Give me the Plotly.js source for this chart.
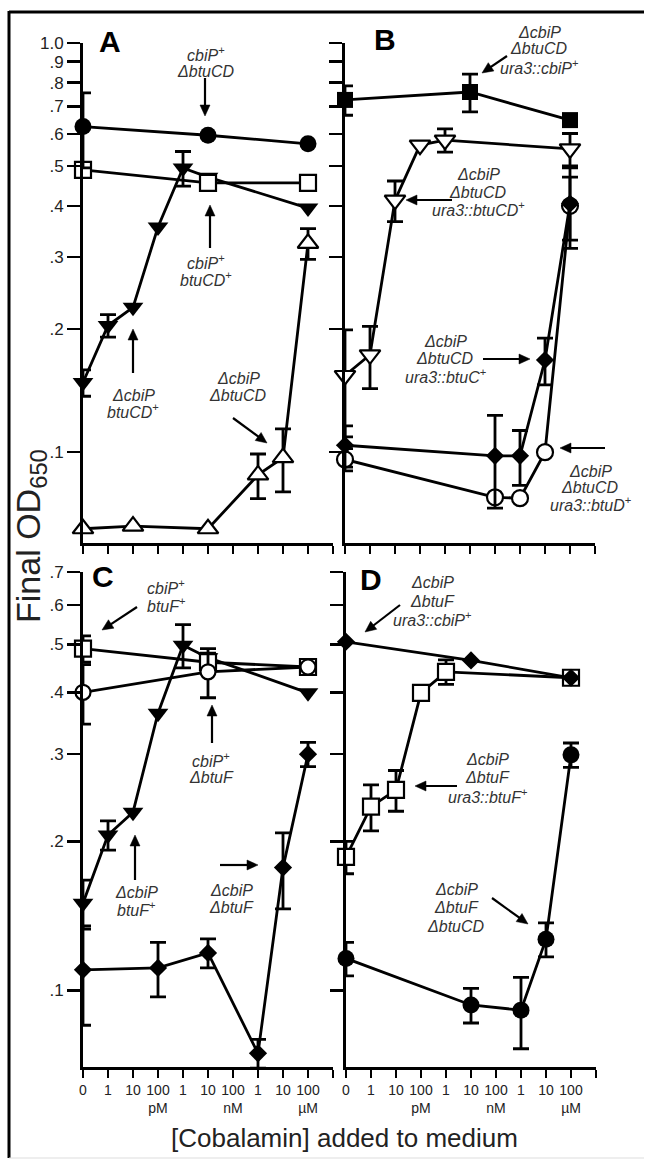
<!DOCTYPE html>
<html>
<head>
<meta charset="utf-8">
<script src="https://cdn.plot.ly/plotly-3.0.1.min.js"></script>
<style>html,body{margin:0;padding:0;background:#fff;}#chart{width:645px;height:1161px;}</style>
</head>
<body>
<div id="chart"></div>
<script>
// ---------- DATA ----------
const concLevels = ["0","1 pM","10 pM","100 pM","1 nM","10 nM","100 nM","1 µM","10 µM","100 µM","1 mM"];
const xTickText = ["0","1","10","100<br>pM","1","10","100<br>nM","1","10","100<br>µM"," "];
const yTickValsAB = [0.1,0.2,0.3,0.4,0.5,0.6,0.7,0.8,0.9,1.0];
const yTickTextAB = [".1",".2",".3",".4",".5",".6",".7",".8",".9","1.0"];
const yTickValsCD = [0.1,0.2,0.3,0.4,0.5,0.6,0.7];
const yTickTextCD = [".1",".2",".3",".4",".5",".6",".7"];

// Panel A
const A_upTri_conc = ["0","10 pM","10 nM","1 µM","10 µM","100 µM"];
const A_upTri_od   = [0.065,0.066,0.065,0.088,0.097,0.324];
const A_upTri_err  = [0,0,0,0.011,0.017,0.028];
const A_dnTri_conc = ["0","1 pM","10 pM","100 pM","1 nM","10 nM","100 µM"];
const A_dnTri_od   = [0.148,0.204,0.226,0.355,0.495,0.47,0.395];
const A_dnTri_err  = [0.011,0.013,0,0,0.048,0,0];
const A_sq_conc    = ["0","10 nM","100 µM"];
const A_sq_od      = [0.49,0.455,0.455];
const A_sq_err     = [0,0,0];
const A_circ_conc  = ["0","10 nM","100 µM"];
const A_circ_od    = [0.625,0.595,0.567];
const A_circ_err   = [0.13,0,0];

// Panel B
const B_sq_conc    = ["0","10 nM","100 µM"];
const B_sq_od      = [0.726,0.759,0.648];
const B_sq_err     = [0.06,0.08,0];
const B_tri_conc   = ["0","1 pM","10 pM","100 pM","1 nM","100 µM"];
const B_tri_od     = [0.154,0.173,0.413,0.563,0.579,0.551];
const B_tri_err    = [0.045,0.03,0.047,0,0.038,0.05];
const B_circ_conc  = ["0","100 nM","1 µM","10 µM","100 µM"];
const B_circ_od    = [0.096,0.0776,0.0772,0.1,0.40];
const B_circ_err   = [0.006,0,0,0,0.07];
const B_dia_conc   = ["0","100 nM","1 µM","10 µM","100 µM"];
const B_dia_od     = [0.104,0.098,0.098,0.168,0.405];
const B_dia_err    = [0.012,0.025,0.015,0.022,0.09];

// Panel C
const C_dia_conc   = ["0","100 pM","10 nM","1 µM","10 µM","100 µM"];
const C_dia_od     = [0.11,0.111,0.119,0.0746,0.177,0.30];
const C_dia_err    = [0.025,0.014,0.008,0.005,0.031,0.017];
const C_tri_conc   = ["0","1 pM","10 pM","100 pM","1 nM","10 nM","100 µM"];
const C_tri_od     = [0.15,0.206,0.229,0.363,0.498,0.47,0.399];
const C_tri_err    = [0.017,0.014,0,0,0.05,0,0];
const C_sq_conc    = ["0","10 nM","100 µM"];
const C_sq_od      = [0.49,0.46,0.45];
const C_sq_err     = [0.03,0.02,0];
const C_circ_conc  = ["0","10 nM","100 µM"];
const C_circ_od    = [0.40,0.44,0.45];
const C_circ_err   = [0.055,0.05,0];

// Panel D
const D_sq_conc    = ["0","1 pM","10 pM","100 pM","1 nM","100 µM"];
const D_sq_od      = [0.186,0.235,0.254,0.399,0.44,0.428];
const D_sq_err     = [0.014,0.025,0.024,0,0.025,0];
const D_dia_conc   = ["0","10 nM","100 µM"];
const D_dia_od     = [0.506,0.464,0.428];
const D_dia_err    = [0,0,0];
const D_circ_conc  = ["0","10 nM","1 µM","10 µM","100 µM"];
const D_circ_od    = [0.116,0.0934,0.0912,0.1268,0.299];
const D_circ_err   = [0.009,0.0075,0.015,0.01,0.017];

// ---------- LAYOUT HELPERS ----------
const W = 645, H = 1161;
const X = p => p / W;
const Y = p => 1 - p / H;
const FONT = "Liberation Sans, Arial, Helvetica, sans-serif";

function series(ax, conc, od, err, symbol, filled, size) {
  return {
    type: 'scatter', mode: 'lines+markers', cliponaxis: false,
    xaxis: 'x' + (ax === 1 ? '' : ax), yaxis: 'y' + (ax === 1 ? '' : ax),
    x: conc.map(c => concLevels.indexOf(c)), y: od,
    line: {color: 'black', width: 2.8},
    marker: {symbol: symbol, size: size, color: filled ? 'black' : 'white',
             line: {color: 'black', width: filled ? 0 : 2.2}},
    error_y: {type: 'data', array: err.map(e => e > 0 ? e : NaN), visible: true,
              color: 'black', thickness: 2.8, width: 8},
    hoverinfo: 'skip', showlegend: false
  };
}

const data = [
  series(1, A_upTri_conc, A_upTri_od, A_upTri_err, 'triangle-up', false, 18),
  series(1, A_dnTri_conc, A_dnTri_od, A_dnTri_err, 'triangle-down', true, 18),
  series(1, A_sq_conc, A_sq_od, A_sq_err, 'square', false, 16),
  series(1, A_circ_conc, A_circ_od, A_circ_err, 'circle', true, 17),

  series(2, B_sq_conc, B_sq_od, B_sq_err, 'square', true, 16),
  series(2, B_tri_conc, B_tri_od, B_tri_err, 'triangle-down', false, 18),
  series(2, B_circ_conc, B_circ_od, B_circ_err, 'circle', false, 16),
  series(2, B_dia_conc, B_dia_od, B_dia_err, 'diamond', true, 14),

  series(3, C_dia_conc, C_dia_od, C_dia_err, 'diamond', true, 14),
  series(3, C_tri_conc, C_tri_od, C_tri_err, 'triangle-down', true, 18),
  series(3, C_sq_conc, C_sq_od, C_sq_err, 'square', false, 16),
  series(3, C_circ_conc, C_circ_od, C_circ_err, 'circle', false, 15),

  series(4, D_sq_conc, D_sq_od, D_sq_err, 'square', false, 16),
  series(4, D_dia_conc, D_dia_od, D_dia_err, 'diamond', true, 14),
  series(4, D_circ_conc, D_circ_od, D_circ_err, 'circle', true, 17)
];

function xAx(l, r, anchor, labels) {
  return {domain: [X(l), X(r)], range: [0, 10], anchor: anchor,
    showgrid: false, zeroline: false, showline: true, linecolor: 'black', linewidth: 3,
    ticks: 'outside', ticklen: 8, tickwidth: 2.5, tickcolor: 'black',
    tickvals: concLevels.map((c, i) => i), ticktext: xTickText,
    showticklabels: labels, tickfont: {family: FONT, size: 14, color: '#222'}};
}
function yAx(t, b, anchor, lo, hi, vals, txt, labels) {
  return {domain: [Y(b), Y(t)], type: 'log', range: [Math.log10(lo), Math.log10(hi)], anchor: anchor,
    showgrid: false, zeroline: false, showline: true, linecolor: 'black', linewidth: 3,
    ticks: 'outside', ticklen: 13, tickwidth: 2.5, tickcolor: 'black',
    tickvals: vals, ticktext: txt,
    showticklabels: labels, tickfont: {family: FONT, size: 17, color: '#222'}};
}

const ann = [];
const shapes = [];
function label(lines, cx, ys, size) {
  lines.forEach((t, k) => ann.push({xref: 'paper', yref: 'paper', x: X(cx), y: Y(ys[k]),
    xanchor: 'center', yanchor: 'middle', showarrow: false, text: t,
    font: {family: FONT, size: size || 16, color: '#333'}}));
}
// arrow: tail (tx,ty) -> head (hx,hy), pixel positions of the page
function arrow(tx, ty, hx, hy) {
  const dx = hx - tx, dy = hy - ty, L = Math.hypot(dx, dy);
  const ux = dx / L, uy = dy / L, hl = 11, hw = 5;
  const bx = hx - ux * hl, by = hy - uy * hl;
  shapes.push({type: 'line', xref: 'paper', yref: 'paper', x0: X(tx), y0: Y(ty), x1: X(bx + ux * 2), y1: Y(by + uy * 2),
    line: {color: 'black', width: 2.2}});
  const p1 = [bx - uy * hw, by + ux * hw], p2 = [bx + uy * hw, by - ux * hw];
  shapes.push({type: 'path', xref: 'paper', yref: 'paper',
    path: 'M' + X(hx) + ',' + Y(hy) + ' L' + X(p1[0]) + ',' + Y(p1[1]) + ' L' + X(p2[0]) + ',' + Y(p2[1]) + ' Z',
    fillcolor: 'black', line: {color: 'black', width: 0.5}});
}
function letter(t, cx, cy) {
  ann.push({xref: 'paper', yref: 'paper', x: X(cx), y: Y(cy), xanchor: 'center', yanchor: 'middle',
    showarrow: false, text: '<b>' + t + '</b>', font: {family: FONT, size: 30, color: 'black'}});
}
const I = s => '<i>' + s + '</i>';

// Panel A annotations
letter('A', 110, 41);
label([I('cbiP') + '<sup>+</sup>', I('ΔbtuCD')], 206, [54, 71]);
arrow(205, 78, 205, 116);
label([I('cbiP') + '<sup>+</sup>', I('btuCD') + '<sup>+</sup>'], 206, [262, 279]);
arrow(210, 248, 210, 205);
label([I('ΔcbiP'), I('btuCD') + '<sup>+</sup>'], 133, [395, 411]);
arrow(133, 373, 133, 329);
label([I('ΔcbiP'), I('ΔbtuCD')], 238, [378, 396]);
arrow(233, 418, 267, 443);

// Panel B annotations
letter('B', 385, 40);
label([I('ΔcbiP'), I('ΔbtuCD'), I('ura3::cbiP') + '<sup>+</sup>'], 539, [32, 49, 67]);
arrow(507, 56, 482, 73);
label([I('ΔcbiP'), I('ΔbtuCD'), I('ura3::btuCD') + '<sup>+</sup>'], 478, [174, 192, 209]);
arrow(452, 200, 406, 200);
label([I('ΔcbiP'), I('ΔbtuCD'), I('ura3::btuC') + '<sup>+</sup>'], 445, [341, 359, 376]);
arrow(483, 359, 530, 359);
label([I('ΔcbiP'), I('ΔbtuCD'), I('ura3::btuD') + '<sup>+</sup>'], 590, [471, 487, 504]);
arrow(605, 448, 560, 448);

// Panel C annotations
letter('C', 103, 576);
label([I('cbiP') + '<sup>+</sup>', I('btuF') + '<sup>+</sup>'], 166, [587, 605]);
arrow(137, 607, 102, 630);
label([I('cbiP') + '<sup>+</sup>', I('ΔbtuF')], 211, [760, 777]);
arrow(212, 743, 212, 705);
label([I('ΔcbiP'), I('btuF') + '<sup>+</sup>'], 136, [892, 909]);
arrow(135, 880, 135, 835);
label([I('ΔcbiP'), I('ΔbtuF')], 231, [890, 907]);
arrow(220, 865, 258, 865);

// Panel D annotations
letter('D', 371, 579);
label([I('ΔcbiP'), I('ΔbtuF'), I('ura3::cbiP') + '<sup>+</sup>'], 433, [582, 601, 619]);
arrow(400, 605, 365, 632);
label([I('ΔcbiP'), I('ΔbtuF'), I('ura3::btuF') + '<sup>+</sup>'], 487, [759, 777, 796]);
arrow(457, 786, 415, 786);
label([I('ΔcbiP'), I('ΔbtuF'), I('ΔbtuCD')], 456, [889, 907, 926]);
arrow(492, 898, 528, 924);

// Axis titles
ann.push({xref: 'paper', yref: 'paper', x: X(30), y: Y(536), textangle: -90,
  xanchor: 'center', yanchor: 'middle', showarrow: false,
  text: 'Final OD<sub>650</sub>', font: {family: FONT, size: 34, color: '#222'}});
ann.push({xref: 'paper', yref: 'paper', x: X(345), y: Y(1138),
  xanchor: 'center', yanchor: 'middle', showarrow: false,
  text: '[Cobalamin] added to medium', font: {family: FONT, size: 26, color: '#222'}});

// Figure frame
shapes.push({type: 'line', xref: 'paper', yref: 'paper', x0: X(9), x1: X(644), y0: Y(12), y1: Y(12), line: {color: 'black', width: 3}});
shapes.push({type: 'line', xref: 'paper', yref: 'paper', x0: X(9), x1: X(9), y0: Y(11), y1: Y(1158), line: {color: 'black', width: 3}});
shapes.push({type: 'line', xref: 'paper', yref: 'paper', x0: X(9), x1: X(644), y0: Y(1158), y1: Y(1158), line: {color: '#dddddd', width: 1}});

const layout = {
  width: W, height: H, margin: {l: 0, r: 0, t: 0, b: 0},
  paper_bgcolor: 'white', plot_bgcolor: 'rgba(0,0,0,0)',
  showlegend: false, font: {family: FONT},
  xaxis:  xAx(83, 333, 'y', false),
  yaxis:  yAx(43, 543, 'x', 0.06, 1.0, yTickValsAB, yTickTextAB, true),
  xaxis2: xAx(345, 595, 'y2', false),
  yaxis2: yAx(43, 543, 'x2', 0.06, 1.0, yTickValsAB, yTickTextAB, false),
  xaxis3: xAx(83, 333, 'y3', true),
  yaxis3: yAx(572, 1067, 'x3', 0.07, 0.7, yTickValsCD, yTickTextCD, true),
  xaxis4: xAx(346, 596, 'y4', true),
  yaxis4: yAx(572, 1067, 'x4', 0.07, 0.7, yTickValsCD, yTickTextCD, false),
  annotations: ann,
  shapes: shapes
};

Plotly.newPlot('chart', data, layout, {staticPlot: true, displayModeBar: false});
</script>
</body>
</html>
